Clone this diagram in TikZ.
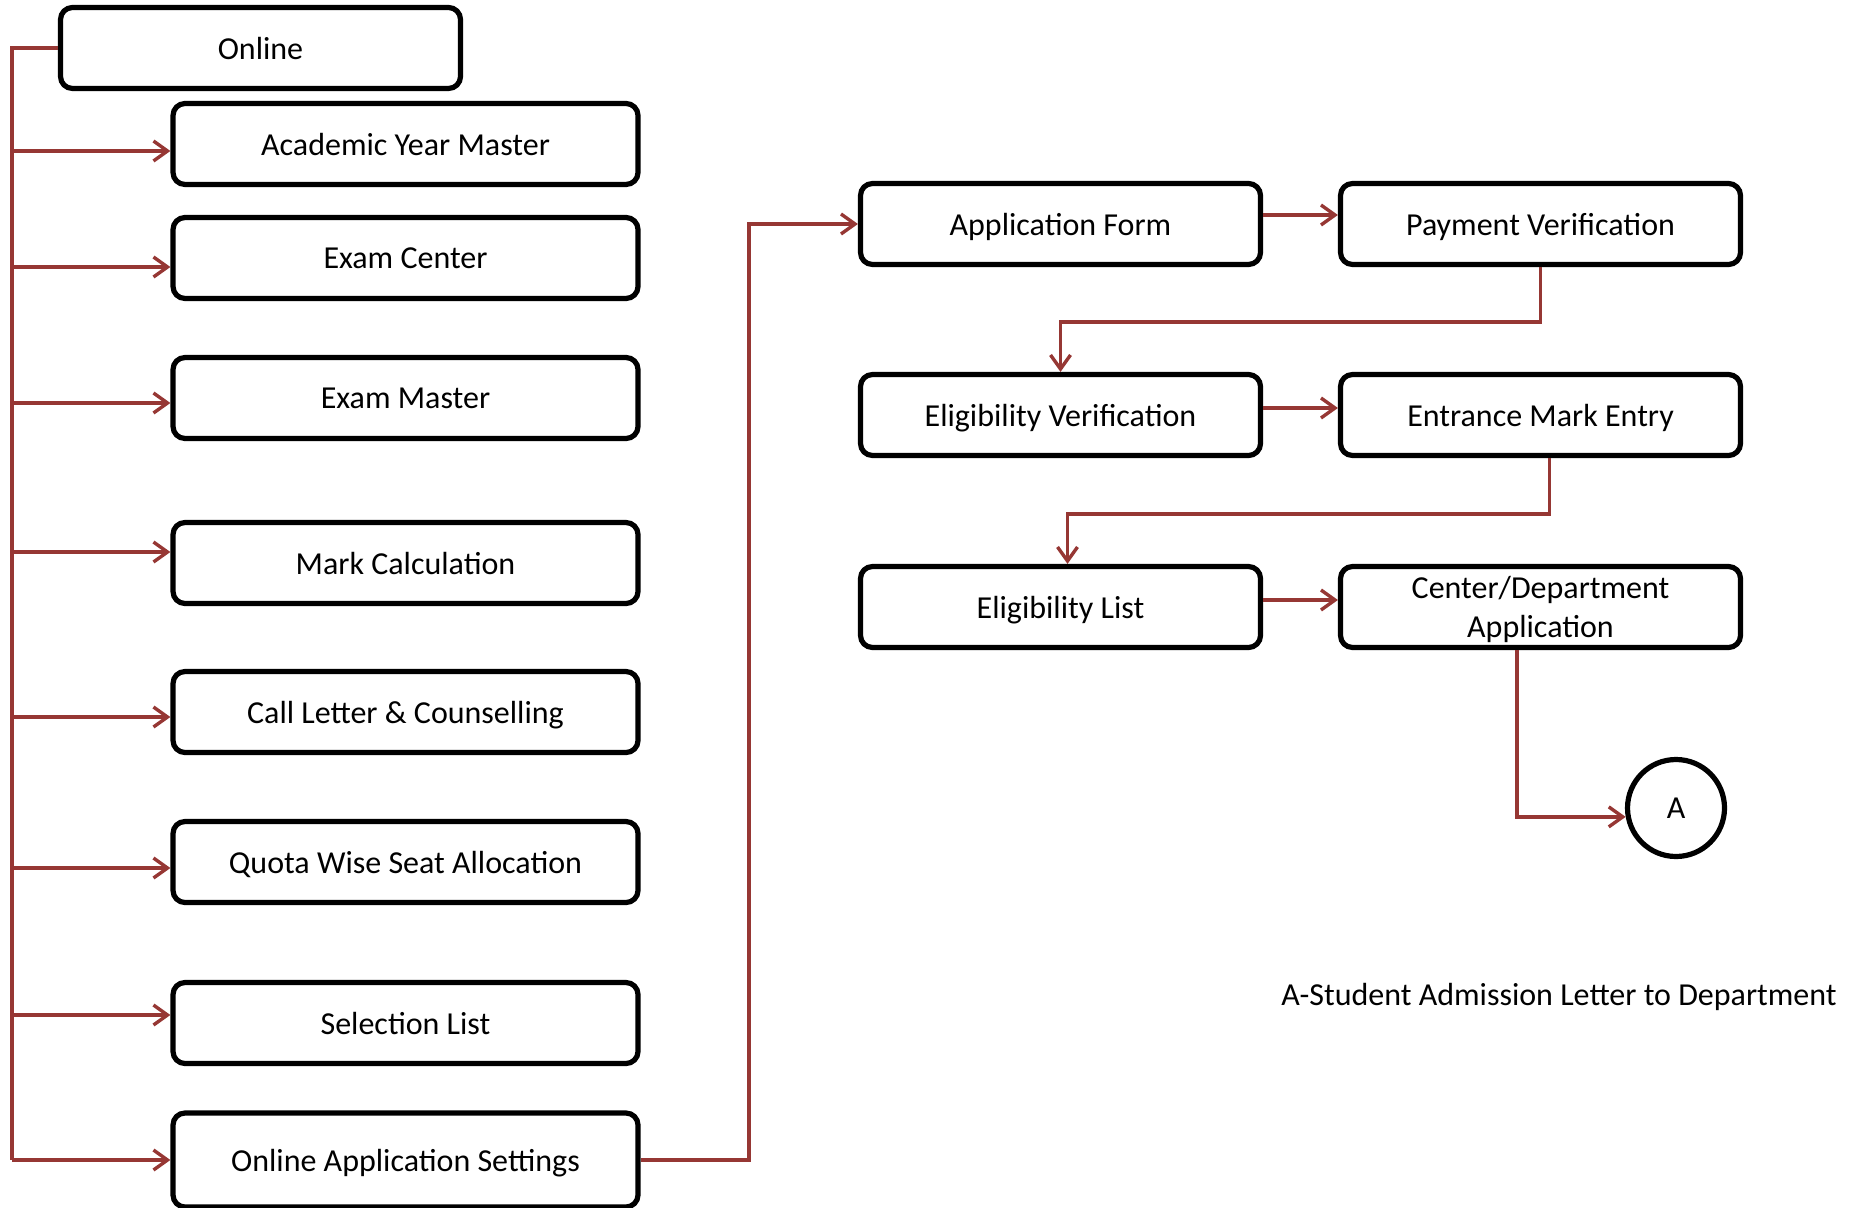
\documentclass[tikz,border=0pt]{standalone}
\usepackage{fontspec}
\setmainfont{Carlito}
\usetikzlibrary{arrows.meta,calc}
\definecolor{conncol}{RGB}{150,55,52}
\begin{document}
\begin{tikzpicture}[x=0.5pt,y=-0.5pt,
  every node/.style={font=\fontsize{16}{19.5}\selectfont},
  box/.style={draw=black,line width=2.6pt,rounded corners=6pt,fill=white,
    minimum height=40.5pt,inner sep=0pt,align=center,text depth=0pt},
  lbox/.style={box,minimum width=232.5pt},
  rbox/.style={box,minimum width=200pt},
  conn/.style={draw=conncol,line width=1.7pt},
  arr/.style={conn,-{Straight Barb[length=7pt,width=10pt]}},
  circnode/.style={draw=black,line width=2.6pt,circle,minimum size=48.5pt,inner sep=0pt}
]
\useasboundingbox (0,0) rectangle (1855,1208);

% left column
\node[rbox] (online) at (260.5,48) {Online};
\node[lbox] (aym) at (405.5,144) {Academic Year Master};
\node[lbox] (ec)  at (405.5,258) {Exam Center};
\node[lbox] (em)  at (405.5,398) {Exam Master};
\node[lbox] (mc)  at (405.5,563) {Mark Calculation};
\node[lbox] (cl)  at (405.5,712) {Call Letter \& Counselling};
\node[lbox] (qw)  at (405.5,862) {Quota Wise Seat Allocation};
\node[lbox] (sl)  at (405.5,1023) {Selection List};
\node[lbox,minimum height=47pt] (oas) at (405.5,1160) {Online Application Settings};

% right column
\node[rbox] (af)  at (1060.5,224) {Application Form};
\node[rbox] (pv)  at (1540.5,224) {Payment Verification};
\node[rbox] (ev)  at (1060.5,415) {Eligibility Verification};
\node[rbox] (eme) at (1540.5,415) {Entrance Mark Entry};
\node[rbox] (el)  at (1060.5,607) {Eligibility List};
\node[rbox] (cda) at (1540.5,607) {Center/Department\\Application};
\node[circnode] (ca) at (1676,808) {A};
\node (legend) at (1559,997) {A-Student Admission Letter to Department};

% trunk
\coordinate (tr) at (12,48);
\coordinate (aymin) at ([yshift=-3.5pt]aym.west);
\coordinate (ecin)  at ([yshift=-4.5pt]ec.west);
\coordinate (emin)  at ([yshift=-2.5pt]em.west);
\coordinate (mcin)  at ([yshift=5.5pt]mc.west);
\coordinate (clin)  at ([yshift=-2.5pt]cl.west);
\coordinate (qwin)  at ([yshift=-3pt]qw.west);
\coordinate (slin)  at ([yshift=4pt]sl.west);
\coordinate (oasin) at (oas.west);

\draw[conn] (online.west) -- (tr) -- (tr |- oasin);
\foreach \t in {aymin,ecin,emin,mcin,clin,qwin,slin,oasin}
  \draw[arr] (tr |- \t) -- (\t);

% to right column
\coordinate (bend) at (749,0);
\draw[arr] (oas.east) -- (bend |- oas.east) |- (af.west);

\draw[arr] ([yshift=4.5pt]af.east) -- ([yshift=4.5pt]pv.west);
\draw[arr] (pv.south) -- ++(0,55) -| (ev.north);
\draw[arr] ([yshift=3.5pt]ev.east) -- ([yshift=3.5pt]eme.west);
\draw[arr] ([xshift=4.5pt]eme.south) -- ++(0,56) -| ([xshift=3.5pt]el.north);
\draw[arr] ([yshift=3.5pt]el.east) -- ([yshift=3.5pt]cda.west);
\draw[arr] ([xshift=-11.75pt]cda.south) |- (ca.190);
\end{tikzpicture}
\end{document}
